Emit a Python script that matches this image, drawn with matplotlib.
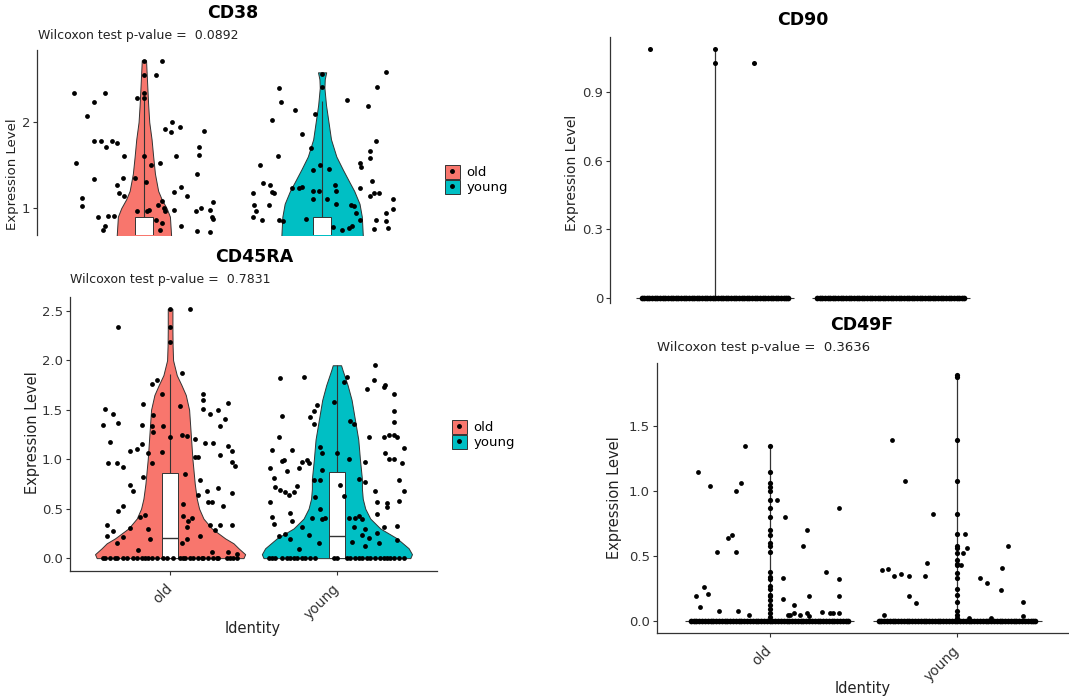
import numpy as np
import matplotlib
matplotlib.use("Agg")
import matplotlib.pyplot as plt
from matplotlib.patches import Patch
from matplotlib.lines import Line2D

plt.rcParams['font.family'] = 'DejaVu Sans'

OLD = '#F8766D'
YOUNG = '#00BFC4'
EDGE = '#333333'
TXT = '#333333'

groups = ['old', 'young']

# ---------------- CD38 ----------------
cd38_pvalue = '0.0892'
cd38_old_vy = [0.60, 0.70, 0.90, 1.00, 1.10, 1.20, 1.40, 1.60, 1.80, 2.00, 2.20, 2.50, 2.72]
cd38_old_vw = [0.155, 0.152, 0.146, 0.127, 0.10, 0.08, 0.062, 0.052, 0.043, 0.03, 0.024, 0.017, 0.012]
cd38_young_vy = [0.60, 0.70, 0.90, 1.05, 1.20, 1.30, 1.45, 1.60, 1.80, 2.00, 2.20, 2.40, 2.50, 2.58]
cd38_young_vw = [0.23, 0.228, 0.223, 0.21, 0.18, 0.154, 0.116, 0.08, 0.05, 0.036, 0.022, 0.013, 0.015, 0.023]
cd38_box = {'old': (0.30, 0.50, 0.90, 2.27), 'young': (0.30, 0.50, 0.90, 2.25)}
cd38_old_pts = [(-0.39, 2.34), (-0.38, 1.53), (-0.35, 1.12), (-0.35, 1.02), (-0.32, 2.07), (-0.28, 2.23),
                (-0.22, 2.34), (-0.28, 1.78), (-0.24, 1.78), (-0.21, 1.71), (-0.18, 1.78), (-0.15, 1.76),
                (-0.11, 1.61), (-0.28, 1.34), (-0.26, 0.90), (-0.20, 0.91), (-0.17, 0.91), (-0.15, 1.27),
                (-0.14, 1.17), (-0.12, 1.35), (-0.11, 1.14), (-0.22, 0.79), (-0.23, 0.75), (-0.05, 1.35),
                (-0.04, 2.28), (0.0, 2.71), (0.0, 2.55), (0.0, 2.34), (0.0, 2.28), (0.0, 1.60), (0.01, 1.30),
                (0.04, 1.50), (-0.04, 0.97), (0.02, 0.97), (0.03, 0.98), (0.07, 2.55), (0.10, 2.71),
                (0.09, 1.52), (0.10, 1.08), (0.08, 1.03), (0.11, 1.00), (0.12, 0.96), (0.07, 0.86),
                (0.10, 0.83), (0.09, 0.75), (0.12, 1.92), (0.15, 1.88), (0.16, 2.00), (0.20, 1.94),
                (0.18, 1.61), (0.17, 1.19), (0.17, 0.98), (0.21, 1.24), (0.24, 1.14), (0.21, 0.79),
                (0.30, 1.40), (0.31, 1.71), (0.31, 1.62), (0.34, 1.90), (0.29, 0.96), (0.32, 1.00),
                (0.37, 0.98), (0.39, 1.07), (0.38, 0.89), (0.39, 0.87), (0.30, 0.73), (0.37, 0.72)]
cd38_young_pts = [(-0.24, 2.40), (-0.23, 2.24), (-0.28, 2.02), (-0.15, 2.14), (-0.11, 1.86), (-0.04, 2.10),
                  (-0.06, 1.70), (0.0, 2.41), (0.0, 2.56), (-0.35, 1.50), (-0.25, 1.60), (-0.33, 1.29),
                  (-0.29, 1.27), (-0.28, 1.19), (-0.27, 1.17), (-0.39, 1.17), (-0.38, 1.03), (-0.37, 0.96),
                  (-0.39, 0.90), (-0.34, 0.86), (-0.30, 1.04), (-0.24, 0.86), (-0.22, 0.85), (-0.17, 1.23),
                  (-0.13, 1.23), (-0.11, 1.24), (-0.09, 0.87), (-0.05, 1.44), (-0.05, 1.11), (-0.05, 1.20),
                  (-0.02, 1.20), (-0.01, 1.50), (0.04, 1.45), (0.07, 1.27), (0.08, 1.20), (0.03, 1.10),
                  (0.08, 1.05), (0.16, 1.04), (0.14, 2.26), (0.18, 1.02), (0.21, 0.86), (0.19, 0.94),
                  (0.06, 0.78), (0.11, 0.75), (0.15, 0.77), (0.17, 0.79), (0.21, 1.23), (0.21, 1.52),
                  (0.22, 1.48), (0.26, 2.19), (0.30, 1.78), (0.27, 1.66), (0.27, 1.58), (0.28, 1.31),
                  (0.29, 1.17), (0.32, 1.18), (0.27, 1.14), (0.36, 2.58), (0.31, 2.41), (0.36, 0.94),
                  (0.40, 1.10), (0.40, 0.99), (0.30, 0.86), (0.36, 0.85), (0.37, 0.77), (0.29, 0.76)]

# ---------------- CD45RA ----------------
cd45ra_pvalue = '0.7831'
cd45ra_old_vy = [0.00, 0.04, 0.10, 0.15, 0.20, 0.30, 0.40, 0.50, 0.60, 0.75, 1.00, 1.25, 1.50, 1.65,
                 1.75, 1.85, 2.00, 2.15, 2.30, 2.52]
cd45ra_old_vw = [0.44, 0.45, 0.41, 0.38, 0.33, 0.25, 0.20, 0.174, 0.16, 0.148, 0.134, 0.124, 0.114, 0.094,
                 0.068, 0.04, 0.018, 0.015, 0.014, 0.014]
cd45ra_young_vy = [0.00, 0.04, 0.10, 0.20, 0.30, 0.40, 0.50, 0.60, 0.70, 0.80, 1.00, 1.20, 1.40, 1.60,
                   1.75, 1.90, 1.95]
cd45ra_young_vw = [0.44, 0.45, 0.43, 0.36, 0.26, 0.20, 0.17, 0.155, 0.15, 0.15, 0.138, 0.128, 0.108, 0.088,
                   0.064, 0.034, 0.025]
cd45ra_box = {'old': (0.0, 0.20, 0.86, 1.86), 'young': (0.0, 0.22, 0.87, 1.95)}
cd45ra_old_pts = [(-0.39, 1.51), (-0.40, 1.35), (-0.34, 1.46), (-0.31, 1.37), (-0.36, 1.17), (-0.37, 0.96),
                  (-0.32, 0.96), (-0.28, 0.92), (-0.31, 2.34), (-0.38, 0.34), (-0.38, 0.22), (-0.34, 0.27),
                  (-0.32, 0.15), (-0.28, 0.21), (-0.31, 0.48), (-0.28, 0.53), (-0.24, 0.30), (-0.24, 0.74),
                  (-0.22, 0.68), (-0.24, 1.08), (-0.20, 1.10), (-0.16, 1.56), (-0.17, 1.35), (-0.17, 1.15),
                  (-0.16, 0.82), (-0.18, 0.42), (-0.15, 0.44), (-0.13, 1.06), (-0.11, 1.76), (-0.08, 1.80),
                  (-0.10, 1.45), (-0.11, 1.34), (-0.11, 0.96), (-0.10, 1.28), (-0.05, 1.66), (-0.04, 1.34),
                  (-0.05, 1.07), (-0.13, 0.29), (-0.12, 0.19), (-0.19, 0.08), (0.0, 2.52), (0.0, 2.34),
                  (0.0, 2.19), (0.12, 2.52), (0.07, 1.87), (0.06, 1.54), (0.0, 1.22), (0.07, 1.24),
                  (0.10, 1.23), (0.09, 0.85), (0.08, 0.55), (0.08, 0.43), (0.10, 0.31), (0.10, 0.19),
                  (0.07, 0.15), (0.15, 1.20), (0.15, 1.02), (0.17, 1.02), (0.18, 0.79), (0.17, 0.64),
                  (0.22, 0.68), (0.23, 0.57), (0.20, 1.66), (0.20, 1.60), (0.20, 1.51), (0.21, 1.16),
                  (0.25, 0.57), (0.26, 1.16), (0.24, 1.46), (0.29, 1.50), (0.30, 1.04), (0.30, 1.34),
                  (0.33, 1.41), (0.35, 1.57), (0.35, 1.13), (0.37, 1.08), (0.37, 0.97), (0.39, 0.93),
                  (0.37, 0.66), (0.29, 0.71), (0.32, 0.53), (0.37, 0.34), (0.24, 0.33), (0.30, 0.33),
                  (0.27, 0.28), (0.25, 0.06), (0.18, 0.22), (0.11, 0.38), (0.13, 0.41), (0.35, 0.06),
                  (0.40, 0.04)]
cd45ra_young_pts = [(-0.34, 1.82), (-0.20, 1.83), (-0.33, 1.44), (-0.35, 1.22), (-0.39, 1.09), (-0.33, 0.98),
                    (-0.27, 1.09), (-0.40, 0.91), (-0.38, 0.81), (-0.37, 0.72), (-0.34, 0.69), (-0.31, 0.67),
                    (-0.30, 0.88), (-0.29, 0.64), (-0.32, 0.99), (-0.40, 0.57), (-0.24, 0.73), (-0.26, 0.67),
                    (-0.39, 0.42), (-0.38, 0.35), (-0.28, 0.46), (-0.27, 0.38), (-0.35, 0.22), (-0.31, 0.24),
                    (-0.28, 0.19), (-0.23, 0.91), (-0.21, 0.97), (-0.18, 0.99), (-0.17, 0.96), (-0.16, 1.43),
                    (-0.14, 1.49), (-0.12, 1.55), (-0.14, 1.36), (-0.10, 1.12), (-0.09, 1.06), (-0.09, 0.89),
                    (-0.14, 0.79), (-0.10, 0.79), (-0.13, 0.62), (-0.10, 0.50), (-0.15, 0.41), (-0.09, 0.40),
                    (-0.07, 0.41), (-0.21, 0.31), (-0.17, 0.23), (-0.23, 0.09), (-0.11, 0.15), (-0.02, 1.58),
                    (0.0, 1.06), (0.04, 1.78), (0.06, 1.83), (0.02, 0.74), (0.04, 0.63), (0.07, 1.00),
                    (0.08, 1.39), (0.10, 1.36), (0.13, 0.80), (0.13, 0.43), (0.11, 0.41), (0.15, 0.40),
                    (0.17, 0.77), (0.17, 0.97), (0.17, 0.29), (0.15, 0.23), (0.10, 0.31), (0.19, 1.22),
                    (0.18, 1.71), (0.22, 1.80), (0.23, 1.95), (0.23, 0.68), (0.24, 0.45), (0.24, 0.57),
                    (0.28, 1.73), (0.29, 1.75), (0.28, 1.22), (0.31, 1.24), (0.34, 1.24), (0.36, 1.22),
                    (0.29, 1.06), (0.31, 1.00), (0.34, 1.00), (0.34, 1.66), (0.34, 1.49), (0.34, 1.38),
                    (0.40, 1.11), (0.39, 0.96), (0.37, 0.79), (0.40, 0.68), (0.37, 0.58), (0.30, 0.56),
                    (0.30, 0.52), (0.28, 0.31), (0.36, 0.32), (0.36, 0.18), (0.24, 0.25), (0.25, 0.15),
                    (0.19, 0.20), (0.17, 0.12), (0.07, 0.41), (0.09, 0.16)]
cd45ra_old_zero_x = [-0.40, -0.39, -0.36, -0.33, -0.32, -0.28, -0.26, -0.22, -0.20, -0.17, -0.15, -0.13,
                     -0.11, -0.08, -0.04, -0.02, 0.02, 0.06, 0.08, 0.09, 0.12, 0.14, 0.17, 0.19, 0.20,
                     0.23, 0.26, 0.28, 0.29, 0.34, 0.36, 0.38, 0.40]
cd45ra_young_zero_x = [-0.41, -0.39, -0.37, -0.33, -0.30, -0.28, -0.26, -0.24, -0.21, -0.19, -0.16, -0.13,
                       -0.02, 0.0, 0.06, 0.08, 0.11, 0.13, 0.15, 0.18, 0.20, 0.23, 0.26, 0.28, 0.30,
                       0.32, 0.34, 0.37, 0.40]

# ---------------- CD90 ----------------
cd90_old_top = 1.09
cd90_old_pts = [(-0.37, 1.09), (0.0, 1.09), (0.0, 1.03), (0.22, 1.03)]

# ---------------- CD49F ----------------
cd49f_pvalue = '0.3636'
cd49f_old_top = 1.35
cd49f_young_top = 1.89
cd49f_old_col = [1.35, 1.15, 1.06, 1.03, 1.00, 0.93, 0.87, 0.80, 0.70, 0.66, 0.60, 0.58, 0.53, 0.38,
                 0.34, 0.32, 0.27, 0.25, 0.20, 0.19, 0.16, 0.12, 0.09, 0.06, 0.03]
cd49f_young_col = [1.89, 1.88, 1.39, 1.08, 0.82, 0.67, 0.58, 0.56, 0.52, 0.47, 0.44, 0.43, 0.37, 0.33,
                   0.25, 0.20, 0.15, 0.08, 0.05, 0.02]
cd49f_old_pts = [(-0.39, 0.19), (-0.37, 0.11), (-0.35, 0.26), (-0.33, 0.21), (-0.38, 1.15), (-0.32, 1.04),
                 (-0.28, 0.53), (-0.27, 0.08), (-0.22, 0.64), (-0.20, 0.66), (-0.18, 1.00), (-0.15, 1.06),
                 (-0.18, 0.53), (-0.17, 0.08), (-0.13, 1.35), (-0.11, 0.05), (0.04, 0.93), (0.08, 0.80),
                 (0.07, 0.33), (0.07, 0.17), (0.10, 0.05), (0.11, 0.05), (0.13, 0.12), (0.13, 0.06),
                 (0.16, 0.05), (0.20, 0.70), (0.18, 0.58), (0.21, 0.19), (0.20, 0.06), (0.21, 0.04),
                 (0.28, 0.07), (0.30, 0.38), (0.32, 0.06), (0.34, 0.06), (0.37, 0.32), (0.37, 0.87),
                 (0.37, 0.19), (0.37, 0.06)]
cd49f_young_pts = [(-0.40, 0.39), (-0.37, 0.40), (-0.35, 1.39), (-0.34, 0.35), (-0.30, 0.36), (-0.26, 0.35),
                   (-0.26, 0.19), (-0.22, 0.14), (-0.28, 1.08), (-0.17, 0.35), (-0.16, 0.45), (-0.13, 0.82),
                   (-0.39, 0.05), (0.04, 0.67), (0.05, 0.56), (0.03, 0.52), (0.02, 0.43), (0.12, 0.33),
                   (0.16, 0.29), (0.23, 0.24), (0.24, 0.41), (0.27, 0.58), (0.35, 0.15), (0.35, 0.04),
                   (0.06, 0.02), (0.18, 0.02)]

# jitter offsets of the many zero values (CD90 / CD49F rows)
dense_zero_x = [-0.42, -0.405, -0.39, -0.375, -0.36, -0.345, -0.33, -0.315, -0.30, -0.285, -0.27, -0.255,
                -0.24, -0.225, -0.21, -0.195, -0.18, -0.165, -0.15, -0.135, -0.12, -0.105, -0.09, -0.075,
                -0.06, -0.045, -0.03, -0.015, 0.0, 0.015, 0.03, 0.045, 0.06, 0.075, 0.09, 0.105, 0.12,
                0.135, 0.15, 0.165, 0.18, 0.195, 0.21, 0.225, 0.24, 0.255, 0.27, 0.285, 0.30, 0.315,
                0.33, 0.345, 0.36, 0.375, 0.39, 0.405, 0.415]

##########################################
W, H = 1069, 700
fig = plt.figure(figsize=(W / 100, H / 100), dpi=100)


def rect(l, t, r, b):
    return [l / W, 1 - b / H, (r - l) / W, (b - t) / H]


def fxy(x, y):
    return (x / W, 1 - y / H)


def style(ax, xaxis=True):
    for s in ['top', 'right']:
        ax.spines[s].set_visible(False)
    ax.spines['left'].set_color(EDGE)
    ax.spines['left'].set_linewidth(0.9)
    ax.tick_params(axis='y', length=3, width=0.8, color=EDGE, labelsize=9.5, labelcolor=TXT, pad=2)
    ax.set_xlim(0.4, 2.6)
    if xaxis:
        ax.spines['bottom'].set_color(EDGE)
        ax.spines['bottom'].set_linewidth(0.9)
        ax.set_xticks([1, 2])
        ax.set_xticklabels(groups, rotation=45, ha='right', va='center', rotation_mode='anchor')
        ax.tick_params(axis='x', length=3, width=0.8, color=EDGE, labelsize=10, labelcolor=TXT, pad=8)
    else:
        ax.spines['bottom'].set_visible(False)
        ax.set_xticks([])


def violin(ax, c, vy, vw, color):
    vy = np.array(vy)
    vw = np.array(vw)
    ax.fill_betweenx(vy, c - vw, c + vw, facecolor=color, edgecolor=EDGE, lw=0.7, zorder=2)


def box(ax, c, stats):
    q1, med, q3, wh = stats
    ax.vlines(c, q3, wh, color=EDGE, lw=0.8, zorder=3)
    ax.bar(c, q3 - q1, bottom=q1, width=0.1, color='white', edgecolor=EDGE, lw=0.7, zorder=3)
    ax.hlines(med, c - 0.05, c + 0.05, color=EDGE, lw=1.0, zorder=3)


def points(ax, c, pts, s=12):
    p = np.array(pts)
    ax.scatter(c + p[:, 0], p[:, 1], s=s, color='black', lw=0, zorder=4)


def zeros(ax, c, xs, s=12):
    xs = np.array(xs)
    ax.scatter(c + xs, np.zeros_like(xs), s=s, color='black', lw=0, zorder=4)


def legend(x, y):
    handles = [(Patch(facecolor=OLD, edgecolor=EDGE, lw=0.7),
                Line2D([], [], marker='o', ls='', color='black', ms=2.5)),
               (Patch(facecolor=YOUNG, edgecolor=EDGE, lw=0.7),
                Line2D([], [], marker='o', ls='', color='black', ms=2.5))]
    fig.legend(handles, groups, loc='upper left', bbox_to_anchor=fxy(x, y), frameon=False,
               fontsize=9.5, handlelength=1.1, handleheight=1.25, labelspacing=0.05,
               handletextpad=0.5, borderpad=0, borderaxespad=0, numpoints=1)


# ---- CD38 ----
ax1 = fig.add_axes(rect(37, 50, 429, 235))
style(ax1, xaxis=False)
ax1.set_ylim(0.686, 2.84)
ax1.set_yticks([1, 2])
violin(ax1, 1, cd38_old_vy, cd38_old_vw, OLD)
violin(ax1, 2, cd38_young_vy, cd38_young_vw, YOUNG)
box(ax1, 1, cd38_box['old'])
box(ax1, 2, cd38_box['young'])
points(ax1, 1, cd38_old_pts)
points(ax1, 2, cd38_young_pts)
fig.text(*fxy(233, 13), 'CD38', ha='center', va='center', fontsize=12.5, fontweight='bold')
fig.text(*fxy(38, 35), 'Wilcoxon test p-value =  ' + cd38_pvalue, ha='left', va='center',
         fontsize=9, color='#222222')
fig.text(*fxy(13, 174), 'Expression Level', rotation=90, ha='center', va='center', fontsize=9.5,
         color='#222222')
legend(445, 165)

# ---- CD45RA ----
ax2 = fig.add_axes(rect(70, 297, 437, 571))
style(ax2)
ax2.set_ylim(-0.13, 2.64)
ax2.set_yticks([0, 0.5, 1.0, 1.5, 2.0, 2.5])
violin(ax2, 1, cd45ra_old_vy, cd45ra_old_vw, OLD)
violin(ax2, 2, cd45ra_young_vy, cd45ra_young_vw, YOUNG)
box(ax2, 1, cd45ra_box['old'])
box(ax2, 2, cd45ra_box['young'])
points(ax2, 1, cd45ra_old_pts)
points(ax2, 2, cd45ra_young_pts)
zeros(ax2, 1, cd45ra_old_zero_x)
zeros(ax2, 2, cd45ra_young_zero_x)
fig.text(*fxy(254, 257), 'CD45RA', ha='center', va='center', fontsize=12.5, fontweight='bold')
fig.text(*fxy(70, 280), 'Wilcoxon test p-value =  ' + cd45ra_pvalue, ha='left', va='center',
         fontsize=9, color='#222222')
fig.text(*fxy(33, 433), 'Expression Level', rotation=90, ha='center', va='center', fontsize=10.5,
         color='#222222')
fig.text(*fxy(253, 628), 'Identity', ha='center', va='center', fontsize=10.5, color='#222222')
legend(452, 420)

# ---- CD90 ----
ax3 = fig.add_axes(rect(610, 37, 996, 303))
style(ax3, xaxis=False)
ax3.set_ylim(-0.022, 1.143)
ax3.set_yticks([0, 0.3, 0.6, 0.9])
ax3.set_yticklabels(['0', '0.3', '0.6', '0.9'])
ax3.hlines(0, 1 - 0.45, 1 + 0.45, color=EDGE, lw=0.8, zorder=2)
ax3.hlines(0, 2 - 0.45, 2 + 0.45, color=EDGE, lw=0.8, zorder=2)
ax3.vlines(1, 0, cd90_old_top, color=EDGE, lw=0.9, zorder=2)
zeros(ax3, 1, dense_zero_x, s=17)
zeros(ax3, 2, dense_zero_x, s=17)
points(ax3, 1, cd90_old_pts, s=13)
fig.text(*fxy(803, 20), 'CD90', ha='center', va='center', fontsize=12.5, fontweight='bold')
fig.text(*fxy(572, 173), 'Expression Level', rotation=90, ha='center', va='center', fontsize=10,
         color='#222222')

# ---- CD49F ----
ax4 = fig.add_axes(rect(657, 363, 1070, 633))
style(ax4)
ax4.set_ylim(-0.092, 1.985)
ax4.set_yticks([0, 0.5, 1.0, 1.5])
ax4.hlines(0, 1 - 0.45, 1 + 0.45, color=EDGE, lw=0.8, zorder=2)
ax4.hlines(0, 2 - 0.45, 2 + 0.45, color=EDGE, lw=0.8, zorder=2)
ax4.vlines(1, 0, cd49f_old_top, color=EDGE, lw=0.9, zorder=2)
ax4.vlines(2, 0, cd49f_young_top, color=EDGE, lw=0.9, zorder=2)
ax4.scatter(np.ones(len(cd49f_old_col)), cd49f_old_col, s=14, color='black', lw=0, zorder=4)
ax4.scatter(np.full(len(cd49f_young_col), 2.0), cd49f_young_col, s=14, color='black', lw=0, zorder=4)
zeros(ax4, 1, dense_zero_x, s=17)
zeros(ax4, 2, dense_zero_x, s=17)
points(ax4, 1, cd49f_old_pts)
points(ax4, 2, cd49f_young_pts)
fig.text(*fxy(862, 325), 'CD49F', ha='center', va='center', fontsize=12.5, fontweight='bold')
fig.text(*fxy(657, 348), 'Wilcoxon test p-value =  ' + cd49f_pvalue, ha='left', va='center',
         fontsize=9.5, color='#222222')
fig.text(*fxy(615, 498), 'Expression Level', rotation=90, ha='center', va='center', fontsize=10.5,
         color='#222222')
fig.text(*fxy(863, 689), 'Identity', ha='center', va='center', fontsize=10.5, color='#222222')

fig.savefig('out.png', dpi=100)
